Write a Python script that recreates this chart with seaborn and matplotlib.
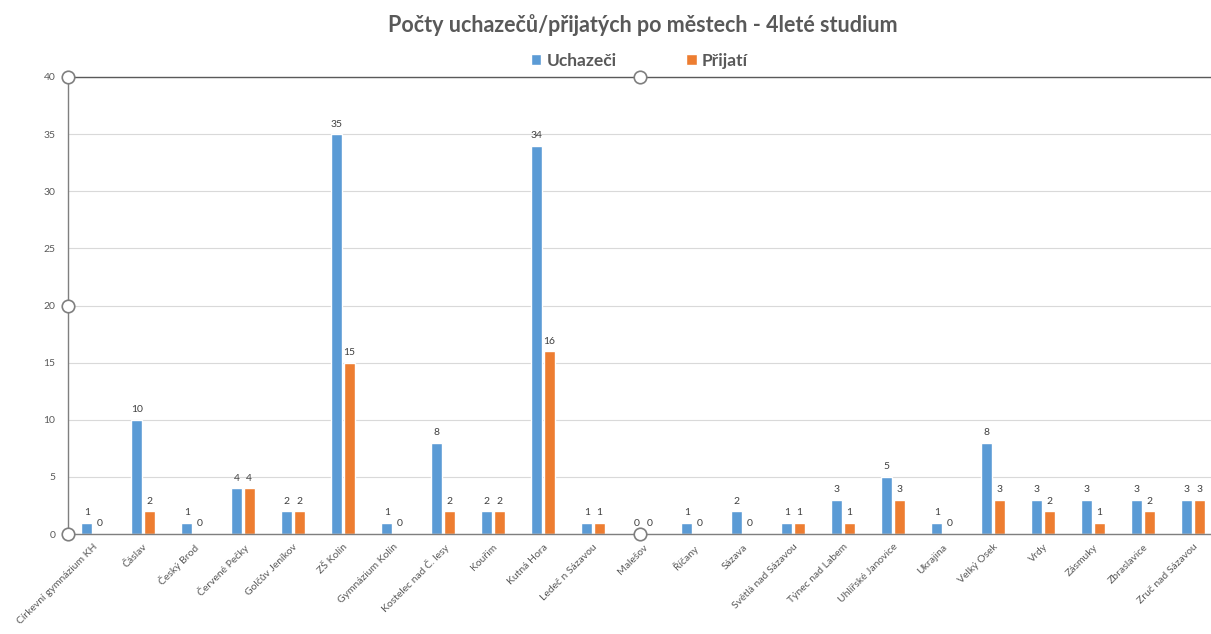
import pandas as pd
import seaborn as sns
import matplotlib.pyplot as plt

mesta = ["Církevní gymnázium KH", "Čáslav", "Český Brod", "Červené Pečky", "Golčův Jeníkov",
         "ZŠ Kolín", "Gymnázium Kolín", "Kostelec nad Č. lesy", "Kouřim", "Kutná Hora",
         "Ledeč n Sázavou", "Malešov", "Říčany", "Sázava", "Světlá nad Sázavou",
         "Týnec nad Labem", "Uhlířské Janovice", "Ukrajina", "Velký Osek", "Vrdy",
         "Zásmuky", "Zbraslavice", "Zruč nad Sázavou"]
uchazeci = [1, 10, 1, 4, 2, 35, 1, 8, 2, 34, 1, 0, 1, 2, 1, 3, 5, 1, 8, 3, 3, 3, 3]
prijati = [0, 2, 0, 4, 2, 15, 0, 2, 2, 16, 1, 0, 0, 0, 1, 1, 3, 0, 3, 2, 1, 2, 3]

df = pd.DataFrame({
    "Město": mesta * 2,
    "Počet": uchazeci + prijati,
    "Skupina": ["Uchazeči"] * len(mesta) + ["Přijatí"] * len(mesta),
})

sns.set_style("white")
plt.rcParams["font.family"] = ["Lato", "DejaVu Sans"]
seda = "#595959"

fig = plt.figure(figsize=(12.11, 6.34), dpi=100)
ax = fig.add_axes([68 / 1211, 1 - 534 / 634, 1 - 68 / 1211, (534 - 77) / 634])

sns.barplot(data=df, x="Město", y="Počet", hue="Skupina",
            palette=["#5B9BD5", "#ED7D31"], saturation=1, width=0.5, gap=0.15, ax=ax)

for cont in ax.containers:
    ax.bar_label(cont, padding=4, fontsize=7.5, color="#404040")

ax.set_ylim(0, 40)
ax.set_xlim(-0.5, len(mesta) - 0.64)
ax.set_yticks(range(0, 41, 5))
ax.yaxis.grid(True, color="#D9D9D9", linewidth=0.8)
ax.set_axisbelow(True)
ax.set_xlabel("")
ax.set_ylabel("")
ax.tick_params(axis="y", labelsize=7.5, labelcolor=seda, length=0, pad=9)
ax.tick_params(axis="x", labelsize=7.5, labelcolor=seda, length=0, pad=6)
plt.setp(ax.get_xticklabels(), rotation=45, ha="right", rotation_mode="anchor")

for side in ["top", "left", "bottom"]:
    ax.spines[side].set_visible(True)
    ax.spines[side].set_color("#7F7F7F")
    ax.spines[side].set_linewidth(1.0)
ax.spines["top"].set_color("#5A5A5A")
ax.spines["right"].set_visible(False)

# uchopovací body vybraného grafu
for px, py in [(0, 0), (0, 0.5), (0, 1), (0.5, 1), (0.5, 0)]:
    ax.plot(px, py, "o", transform=ax.transAxes, ms=9, mfc="white", mec="#7F7F7F",
            mew=1.2, clip_on=False, zorder=10)

leg = ax.legend(loc="center", bbox_to_anchor=(0.5, 1.035), ncol=2, frameon=False,
                handlelength=0.6, handleheight=0.6, columnspacing=4.0, handletextpad=0.3,
                prop={"weight": "bold", "size": 12.5})
for t in leg.get_texts():
    t.set_color(seda)

fig.suptitle("Počty uchazečů/přijatých po městech - 4leté studium", x=(68 + 1218) / 2 / 1211,
             y=1 - 25 / 634, va="center", fontsize=15.5, fontweight="bold", color=seda)

fig.savefig("out.png", dpi=100)
